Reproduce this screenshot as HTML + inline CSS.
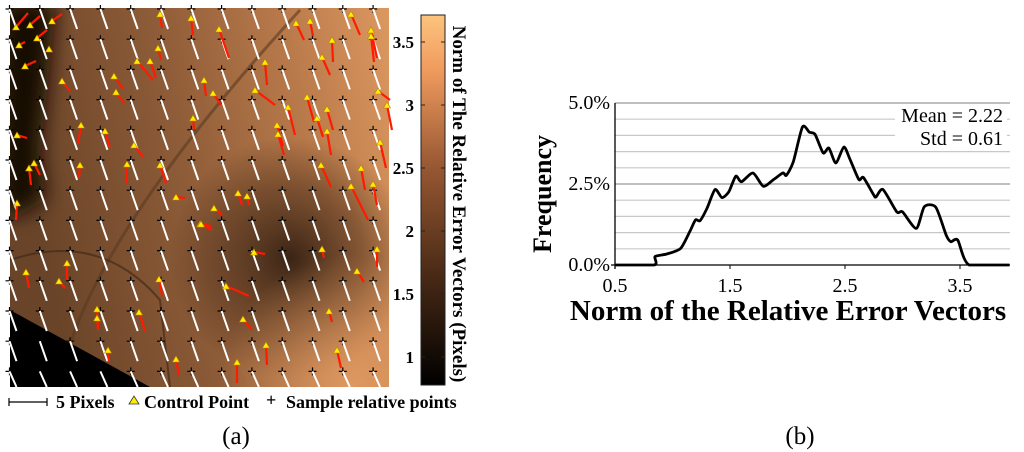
<!DOCTYPE html>
<html><head><meta charset="utf-8">
<style>
html,body{margin:0;padding:0;background:#fff;width:1024px;height:452px;overflow:hidden}
svg{display:block;font-family:"Liberation Serif",serif}
</style></head>
<body>
<svg id="root" width="1024" height="452" viewBox="0 0 1024 452">
<defs>
  <linearGradient id="base" x1="0" y1="0.2" x2="1" y2="0">
    <stop offset="0" stop-color="#6a4428"/>
    <stop offset="0.4" stop-color="#8e5c38"/>
    <stop offset="0.75" stop-color="#bc7c4c"/>
    <stop offset="1" stop-color="#dc9860"/>
  </linearGradient>
  <filter id="blur" x="-50%" y="-50%" width="200%" height="200%"><feGaussianBlur stdDeviation="10"/></filter>
  <radialGradient id="darkC" cx="0.74" cy="0.66" r="0.32">
    <stop offset="0" stop-color="#2e1c10" stop-opacity="0.9"/>
    <stop offset="0.6" stop-color="#4a2e1a" stop-opacity="0.5"/>
    <stop offset="1" stop-color="#4a2e1a" stop-opacity="0"/>
  </radialGradient>
  <radialGradient id="lightBR" cx="0.9" cy="1" r="0.35">
    <stop offset="0" stop-color="#e8a066" stop-opacity="0.8"/>
    <stop offset="1" stop-color="#e8a066" stop-opacity="0"/>
  </radialGradient>
  <linearGradient id="cbar" x1="0" y1="1" x2="0" y2="0">
    <stop offset="0" stop-color="#000"/>
    <stop offset="0.3" stop-color="#4a2a16"/>
    <stop offset="0.6" stop-color="#9a5a34"/>
    <stop offset="0.85" stop-color="#f09a5e"/>
    <stop offset="1" stop-color="#fcc47e"/>
  </linearGradient>
  <clipPath id="mapclip"><rect x="10" y="8" width="379" height="379"/></clipPath>
</defs>

<g id="map">
  <rect x="10" y="8" width="379" height="379" fill="url(#base)"/>
  <rect x="10" y="8" width="379" height="379" fill="url(#darkC)"/>
  <rect x="10" y="8" width="379" height="379" fill="url(#lightBR)"/>
  <g clip-path="url(#mapclip)">
    <path d="M0,0 L55,0 L48,80 L40,150 L45,200 L20,215 L0,215 Z" fill="#120a05" filter="url(#blur)"/>
  </g>
  <path d="M60,387 Q80,250 300,10" stroke="#5a3a22" stroke-width="3" fill="none" opacity="0.6"/>
  <path d="M10,260 Q100,230 160,300 L170,387" stroke="#3a2414" stroke-width="2" fill="none" opacity="0.6"/>
  <polygon points="10,310 10,387 150,387" fill="#000"/>
  <g id="crosses"></g>
  <g id="whites"></g>
  <g id="arrows"></g>
</g>

<g id="colorbar">
  <rect x="421" y="15" width="24" height="370" fill="url(#cbar)" stroke="#222" stroke-width="1"/>
  <g id="cbticks" font-size="17" font-weight="bold" text-anchor="end"></g>
  <text transform="translate(453,204) rotate(90)" text-anchor="middle" font-size="19" font-weight="bold">Norm of The Relative Error Vectors (Pixels)</text>
</g>

<g id="legend-a" font-size="18" font-weight="bold">
  <line x1="9" y1="402" x2="47" y2="402" stroke="#000" stroke-width="1.2"/>
  <line x1="9" y1="398" x2="9" y2="406" stroke="#000" stroke-width="1.2"/>
  <line x1="47" y1="398" x2="47" y2="406" stroke="#000" stroke-width="1.2"/>
  <text x="56" y="408">5 Pixels</text>
  <polygon points="129,404 134,396 139,404" fill="#ffee00" stroke="#333" stroke-width="0.8"/>
  <text x="144" y="408">Control Point</text>
  <text x="266" y="406">+</text>
  <text x="286" y="408">Sample relative points</text>
</g>
<text x="236" y="444" text-anchor="middle" font-size="25">(a)</text>

<g id="chart-b">
  <g id="grid"></g>
  <g id="ticks" font-size="20"></g>
  <rect x="895" y="104" width="112" height="44" fill="#fff"/>
  <text x="1003" y="122" text-anchor="end" font-size="20">Mean = 2.22</text>
  <text x="1003" y="145" text-anchor="end" font-size="20">Std = 0.61</text>
  <path id="curve" fill="none" stroke="#000" stroke-width="2.8" stroke-linejoin="round"/>
  <text transform="translate(551,194) rotate(-90)" text-anchor="middle" font-size="26" font-weight="bold">Frequency</text>
  <text x="788" y="320" text-anchor="middle" font-size="29" font-weight="bold">Norm of the Relative Error Vectors</text>
</g>
<text x="800" y="444" text-anchor="middle" font-size="25">(b)</text>
</svg>

<script>
// ---- histogram data ----
const normVals = [0.5,0.84,0.848,0.95,1.07,1.15,1.2,1.24,1.3,1.37,1.43,1.49,1.55,1.6,1.7,1.79,1.88,1.96,1.99,2.05,2.13,2.19,2.24,2.31,2.36,2.42,2.49,2.54,2.62,2.66,2.75,2.77,2.83,2.95,3.0,3.12,3.19,3.29,3.38,3.42,3.48,3.58,3.93];
const freqVals = [0,0,0.26,0.34,0.51,1.03,1.39,1.37,1.75,2.33,2.08,2.26,2.74,2.57,2.84,2.43,2.64,2.84,2.77,3.18,4.26,4.1,4.03,3.46,3.61,3.15,3.64,3.29,2.64,2.7,2.16,2.1,2.33,1.64,1.64,1.13,1.8,1.78,0.92,0.72,0.77,0,0];
const xTicks = [0.5,1.5,2.5,3.5];
const yTicks = [0,2.5,5];
const yTickLabels = ["0.0%","2.5%","5.0%"];
const cbTicks = [1,1.5,2,2.5,3,3.5];

// ---- control point vectors: tip x, tip y, tail x, tail y (map pixels) ----
const cpTipX = [16,30,52,19,37,49,25,62,160,191,219,158,137,150,114,116,204,213,265,255,296,310,332,322,351,371,371,307,288,327,317,327,277,278,378,387,380,321,361,373,351,193,81,105,134,160,127,80,17,29,34,17,176,214,238,247,200,201,254,322,377,357,226,26,59,67,159,97,97,139,243,329,108,176,237,266,337];
const cpTipY = [27,25,21,45,38,49,66,81,14,18,29,48,61,61,76,92,80,93,62,90,23,21,40,57,14,30,36,97,107,109,118,131,125,134,91,105,142,165,168,184,186,118,125,131,145,165,164,165,135,168,163,203,197,208,193,196,224,224,252,249,249,271,286,272,281,263,279,309,318,312,319,311,350,359,362,345,350];
const cpEndX = [28,40,62,25,47,52,36,70,162,193,229,161,153,156,123,124,206,221,267,275,304,313,333,330,360,377,374,314,295,333,323,331,283,284,390,392,386,331,365,377,368,194,78,110,143,166,126,79,27,31,40,16,185,222,242,249,211,212,265,324,377,364,249,29,65,67,162,98,98,145,252,332,109,179,237,267,341];
const cpEndY = [13,16,14,42,30,52,61,91,28,35,58,60,80,78,89,103,96,105,85,105,40,36,62,75,35,58,62,122,135,130,137,155,146,155,100,130,168,187,190,205,220,130,144,148,157,183,183,178,138,185,175,220,198,215,205,205,226,230,254,258,267,282,296,288,288,280,295,328,330,331,330,322,362,375,383,365,368];

const NS = "http://www.w3.org/2000/svg";
function mk(tag, attrs, parent){const e=document.createElementNS(NS,tag);for(const k in attrs)e.setAttribute(k,attrs[k]);parent.appendChild(e);return e;}

// ---- chart b axes ----
const X0=615, XPU=115, Y0=265, YPP=32.4, XR=1010;
const xS = v => X0 + (v-0.5)*XPU;
const yS = v => Y0 - v*YPP;
const grid=document.getElementById('grid');
for(let g=0.5; g<=5.001; g+=0.5){
  const l=mk('line',{x1:X0,x2:XR,y1:yS(g),y2:yS(g),stroke:(Math.abs(g%2.5)<0.01)?'#999':'#c8c8c8','stroke-width':1.2},grid);
  
  
}
const axy=mk('line',{x1:X0,x2:X0,y1:yS(5),y2:Y0+4,stroke:'#000','stroke-width':1.3},grid);


const axx=mk('line',{x1:X0-4,x2:XR,y1:Y0,y2:Y0,stroke:'#000','stroke-width':1.3},grid);


const ticks=document.getElementById('ticks');
xTicks.forEach(v=>{
  const t=mk('text',{x:xS(v),y:Y0+27,'text-anchor':'middle'},ticks);t.textContent=v.toFixed(1);
  
  
  mk('line',{x1:xS(v),x2:xS(v),y1:Y0,y2:Y0+4,stroke:'#000'},ticks);
});
yTicks.forEach((v,i)=>{
  const t=mk('text',{x:X0-5,y:yS(v)+6,'text-anchor':'end'},ticks);t.textContent=yTickLabels[i];
  
  
});
// smooth curve (Catmull-Rom, low tension, clamped to axis)
const pts=normVals.map((v,i)=>[xS(v),yS(freqVals[i])]);
let d='M'+pts[0][0]+','+pts[0][1];
const cl = y => Math.min(y, Y0);
for(let i=0;i<pts.length-1;i++){
  const p0=pts[Math.max(0,i-1)],p1=pts[i],p2=pts[i+1],p3=pts[Math.min(pts.length-1,i+2)];
  const t=0.12;
  d+=' C'+(p1[0]+(p2[0]-p0[0])*t)+','+cl(p1[1]+(p2[1]-p0[1])*t)+' '+(p2[0]-(p3[0]-p1[0])*t)+','+cl(p2[1]-(p3[1]-p1[1])*t)+' '+p2[0]+','+p2[1];
}
document.getElementById('curve').setAttribute('d',d);

// ---- colorbar ticks ----
const cbY = v => 357 - (v-1)*126;
const cbt=document.getElementById('cbticks');
cbTicks.forEach(v=>{
  const t=mk('text',{x:414,y:cbY(v)+6},cbt);t.textContent=String(v);
  
  
  mk('line',{x1:421,x2:425,y1:cbY(v),y2:cbY(v),stroke:'#222'},cbt);
  mk('line',{x1:441,x2:445,y1:cbY(v),y2:cbY(v),stroke:'#222'},cbt);
});

// ---- map sample crosses and white vectors ----
const cr=document.getElementById('crosses'), wh=document.getElementById('whites');
for(let i=0;i<13;i++){for(let j=0;j<13;j++){
  const cx=9.5+i*30.3, cy=9+j*30.2;
  const w=mk('line',{x1:cx,y1:cy,x2:Math.min(cx+7,389),y2:Math.min(cy+20,387),stroke:'#fff','stroke-width':2},wh);
  
  
  const c=mk('path',{d:`M${cx-4},${cy}H${cx+4}M${cx},${cy-4}V${cy+4}`,stroke:'#000','stroke-width':1.2},cr);
  
  
}}
const ar=document.getElementById('arrows');
cpTipX.forEach((tx,i)=>{
  const l=mk('line',{x1:tx,y1:cpTipY[i],x2:cpEndX[i],y2:cpEndY[i],stroke:'#ff1a00','stroke-width':2.2},ar);
  
  
  const ty=cpTipY[i];
  const p=mk('polygon',{points:`${tx-3.5},${ty+3} ${tx},${ty-3} ${tx+3.5},${ty+3}`,fill:'#ffee00',stroke:'#c08000','stroke-width':0.6},ar);
  
  
});
</script>
</body></html>
